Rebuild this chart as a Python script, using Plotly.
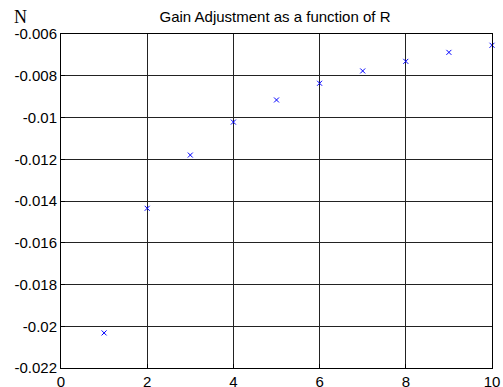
import plotly.graph_objects as go

r_vals = [1, 2, 3, 4, 5, 6, 7, 8, 9, 10]
n_vals = [-0.02032, -0.01435, -0.01180, -0.01022, -0.00916, -0.00836, -0.00777, -0.00731, -0.00688, -0.00654]
x_ticks = [0, 2, 4, 6, 8, 10]
y_ticks = [-0.022, -0.02, -0.018, -0.016, -0.014, -0.012, -0.01, -0.008, -0.006]
y_tick_text = ["-0.022", "-0.02", "-0.018", "-0.016", "-0.014", "-0.012", "-0.01", "-0.008", "-0.006"]

fig = go.Figure(go.Scatter(
    x=r_vals, y=n_vals, mode="markers", cliponaxis=False,
    marker=dict(symbol="x-thin", size=5, line=dict(color="#0000ff", width=1), color="#0000ff"),
))

fig.update_layout(
    width=503, height=387,
    margin=dict(l=61, r=11, t=34, b=19),
    paper_bgcolor="white", plot_bgcolor="white",
    showlegend=False,
    font=dict(family="Liberation Sans, Arial", size=15, color="black"),
    title=dict(text="Gain Adjustment as a function of R", x=(275 - 61) / 431, xanchor="center", xref="paper",
               y=1 - 17 / 387, yanchor="middle", font=dict(size=15, family="Liberation Sans, Arial")),
    annotations=[dict(text="N", xref="paper", yref="paper", x=-49 / 431, y=1 + 17 / 334,
                      xanchor="left", yanchor="middle", showarrow=False,
                      font=dict(family="Liberation Serif, Times New Roman", size=18, color="black"))],
)
fig.update_xaxes(range=[0, 10], tickvals=x_ticks, showgrid=True, gridcolor="#222", gridwidth=1,
                 showline=True, linecolor="black", linewidth=1, mirror=True, zeroline=False,
                 ticks="inside", ticklen=4, tickcolor="black", tickfont=dict(size=15),
                 automargin=False, ticklabelstandoff=0)
fig.update_yaxes(range=[-0.022, -0.006], tickvals=y_ticks, ticktext=y_tick_text, showgrid=True,
                 gridcolor="#222", gridwidth=1, showline=True, linecolor="black", linewidth=1,
                 mirror=True, zeroline=False, ticks="inside", ticklen=4, tickcolor="black",
                 tickfont=dict(size=15), automargin=False)

fig.write_html("out.html")
